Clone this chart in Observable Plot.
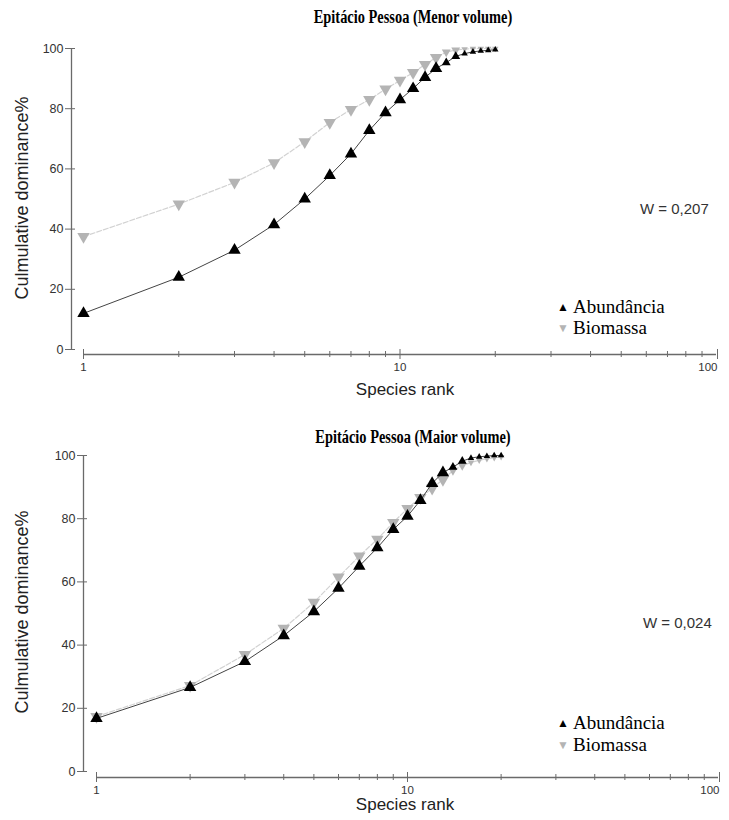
<!DOCTYPE html>
<html>
<head>
<meta charset="utf-8">
<script src="https://cdn.jsdelivr.net/npm/d3@7"></script>
<script src="https://cdn.jsdelivr.net/npm/@observablehq/plot@0.6"></script>
<style>
  html, body { margin: 0; padding: 0; background: #fff; }
  #wrap { position: relative; width: 729px; height: 820px; overflow: hidden; }
  .abs { position: absolute; white-space: nowrap; }
  .title { font-family: "Liberation Serif", "Times New Roman", serif; font-weight: bold; font-size: 18px; color: #000; }
  .sans { font-family: "Liberation Sans", Arial, sans-serif; color: #222; }
  .leg { font-family: "Liberation Serif", "Times New Roman", serif; font-size: 19px; color: #000; }
  .plot { position: absolute; left: 0; }
</style>
</head>
<body>
<div id="wrap"></div>
<script>
// ---------------- data ----------------
const ranks = [1, 2, 3, 4, 5, 6, 7, 8, 9, 10, 11, 12, 13, 14, 15, 16, 17, 18, 19, 20];
const seriesNames = ["Abundância", "Biomassa"];
const panelTitles = ["Epitácio Pessoa (Menor volume)", "Epitácio Pessoa (Maior volume)"];
const wLabels = ["W = 0,207", "W = 0,024"];
const xLabel = "Species rank";
const yLabel = "Culmulative dominance%";
const yTicks = [0, 20, 40, 60, 80, 100];
const xMinorTicks = [2, 3, 4, 5, 6, 7, 8, 9, 20, 30, 40, 50, 60, 70, 80, 90];
const xMajorTicks = [1, 10, 100];

// Menor volume
const menorAbund = [12, 24, 33, 41.5, 50, 57.8, 65, 72.8, 78.7, 83, 86.7, 90.4, 93.4, 95.3, 97.4, 98.3, 98.9, 99.2, 99.4, 99.6];
const menorBiom  = [37.5, 48.3, 55.5, 62, 69, 75.4, 79.7, 83, 86.5, 89.4, 92, 94.7, 97, 98.8, 99.5, 99.8, 100, 100, 100, 100];
// Maior volume
const maiorAbund = [16.8, 26.6, 34.8, 43, 50.6, 58, 65, 70.8, 76.6, 80.8, 85.8, 91.2, 94.6, 96.3, 98.2, 99.2, 99.6, 99.8, 100, 100];
const maiorBiom  = [17.4, 27.2, 37, 45.3, 53.5, 61.5, 68.2, 73.5, 78.8, 83.2, 86.7, 89.6, 92.4, 95.2, 96.8, 97.8, 98.5, 99, 99.3, 99.6];

// ---------------- helpers ----------------
const wrap = document.getElementById("wrap");
function addText(cls, txt, x, y, opts = {}) {
  const d = document.createElement("div");
  d.className = "abs " + cls;
  d.textContent = txt;
  d.style.left = x + "px";
  d.style.top = y + "px";
  let tr = opts.anchor === "start" ? "translate(0,-50%)" : "translate(-50%,-50%)";
  if (opts.rotate) tr += ` rotate(${opts.rotate}deg)`;
  if (opts.scaleX) tr += ` scaleX(${opts.scaleX})`;
  d.style.transform = tr;
  if (opts.size) d.style.fontSize = opts.size + "px";
  if (opts.color) d.style.color = opts.color;
  wrap.appendChild(d);
  return d;
}

function symR(r) { return r <= 13 ? 4.6 : r <= 15 ? 3.3 : 2.4; }

function makePanel(abund, biom, g) {
  const rows = ranks.map((r, i) => ({rank: r, a: abund[i], b: biom[i]}));
  const chart = Plot.plot({
    width: 729,
    height: g.height,
    marginLeft: g.ml,
    marginRight: g.mr,
    marginTop: g.mt,
    marginBottom: g.mb,
    style: {background: "transparent", overflow: "visible"},
    x: {type: "log", domain: [1, 100], insetLeft: g.insetLeft, label: null},
    y: {domain: [0, 100], insetBottom: g.insetBottom, label: null},
    r: {type: "identity"},
    marks: [
      // axis lines
      Plot.ruleX([1], {y1: 0, y2: 100, dx: -g.insetLeft, stroke: "#6a6a6a", strokeWidth: 1.3}),
      Plot.ruleY([0], {x1: 1, x2: 100, dy: g.insetBottom, stroke: "#6a6a6a", strokeWidth: 1.3}),
      // y ticks & labels
      Plot.axisY({ticks: yTicks, tickSize: 10, dx: 4, tickPadding: 2, stroke: "#6a6a6a", fill: "#333",
                  fontSize: 12.5, fontFamily: "Liberation Sans, Arial, sans-serif", label: null}),
      // x minor ticks
      Plot.axisX({ticks: xMinorTicks, tickSize: 6, dy: -3, stroke: "#6a6a6a", tickFormat: () => "", label: null}),
      // x major ticks
      Plot.axisX({ticks: xMajorTicks.slice(0, 2), tickSize: 10, dy: -5, tickPadding: 3, stroke: "#6a6a6a", fill: "#333",
                  fontSize: 11.5, fontFamily: "Liberation Sans, Arial, sans-serif", tickFormat: d => String(d), label: null}),
      Plot.axisX({ticks: xMajorTicks.slice(2), tickSize: 10, dy: -5, tickPadding: 3, stroke: "#6a6a6a", fill: "#333",
                  fontSize: 11.5, fontFamily: "Liberation Sans, Arial, sans-serif", textAnchor: "end", dx: 1,
                  tickFormat: d => String(d), label: null}),
      // Biomassa
      Plot.line(rows, {x: "rank", y: "b", stroke: "#d2d2d2", strokeWidth: 1.2, strokeDasharray: "5,2"}),
      Plot.dot(rows, {x: "rank", y: "b", symbol: "triangle", rotate: 180, fill: "#b4b4b4", stroke: "none",
                      r: d => symR(d.rank)}),
      // Abundância
      Plot.line(rows, {x: "rank", y: "a", stroke: "#444", strokeWidth: 1}),
      Plot.dot(rows, {x: "rank", y: "a", symbol: "triangle", fill: "#000", stroke: "none",
                      r: d => symR(d.rank)})
    ]
  });
  chart.classList.add("plot");
  chart.style.top = g.top + "px";
  wrap.appendChild(chart);
}

// ---------------- panels ----------------
makePanel(menorAbund, menorBiom, {top: 0, height: 400, ml: 71, mr: 13, mt: 48, mb: 46, insetLeft: 12, insetBottom: 5});
makePanel(maiorAbund, maiorBiom, {top: 400, height: 420, ml: 83, mr: 11, mt: 55, mb: 43, insetLeft: 13, insetBottom: 6});

// ---------------- texts ----------------
addText("title", panelTitles[0], 413, 17, {scaleX: 0.8});
addText("title", panelTitles[1], 413, 437, {scaleX: 0.8});

addText("sans", yLabel, 22, 198, {rotate: -90, size: 18});
addText("sans", yLabel, 22, 612, {rotate: -90, size: 18});
addText("sans", xLabel, 405, 390, {size: 17});
addText("sans", xLabel, 405, 805, {size: 17});

addText("sans", wLabels[0], 640, 208, {anchor: "start", size: 15, color: "#333"});
addText("sans", wLabels[1], 643, 622, {anchor: "start", size: 15, color: "#333"});

// legends
const legRows = [
  {y: [307, 328], x: 563},
  {y: [723, 745], x: 563}
];
legRows.forEach(L => {
  addText("leg", "▲", L.x, L.y[0], {size: 12, color: "#000"});
  addText("leg", seriesNames[0], L.x + 10, L.y[0], {anchor: "start"});
  addText("leg", "▼", L.x, L.y[1], {size: 12, color: "#b4b4b4"});
  addText("leg", seriesNames[1], L.x + 10, L.y[1], {anchor: "start"});
});
</script>
</body>
</html>
